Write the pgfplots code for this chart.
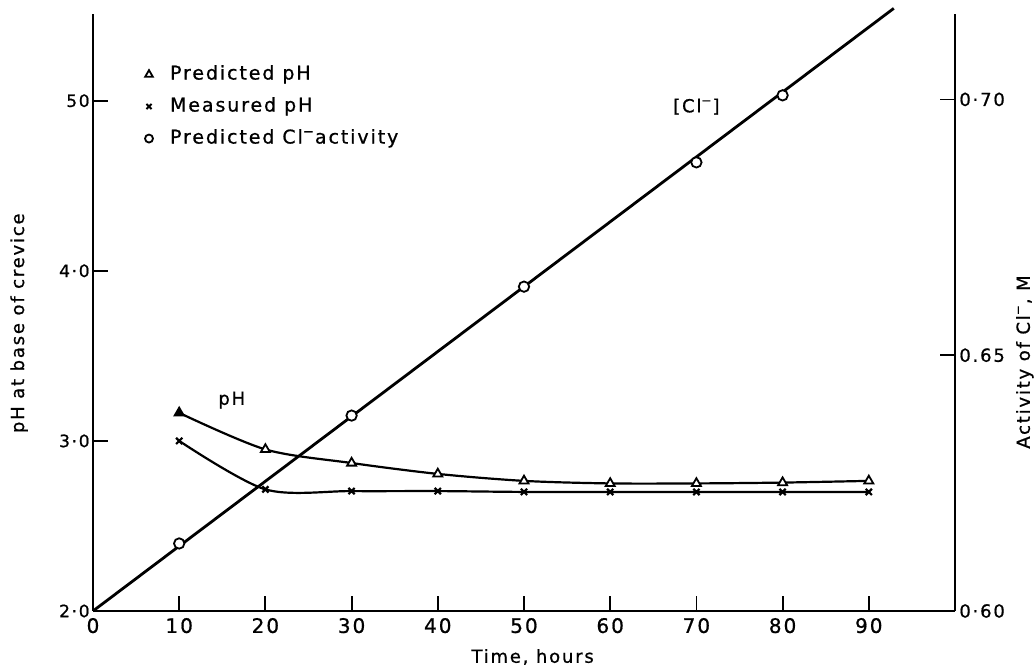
\documentclass[border=0pt]{standalone}
\usepackage{fontspec}
\setmainfont[LetterSpace=10, FakeBold=0.8]{DejaVu Sans}
\usepackage{pgfplots}
\usepackage{pgfplotstable}
\pgfplotsset{compat=1.18}

% pH at the base of the crevice (predicted and measured)
\pgfplotstableread{
t pred meas
10 3.165 3.000
20 2.950 2.715
30 2.870 2.705
40 2.806 2.705
50 2.765 2.700
60 2.750 2.700
70 2.750 2.700
80 2.755 2.700
90 2.765 2.700
}\phdata

% predicted chloride activity
\pgfplotstableread{
t act
10 0.6132
30 0.6382
50 0.6634
70 0.6877
80 0.7008
}\cldata

\begin{document}
\begin{tikzpicture}[font=\fontsize{9}{11}\selectfont]
\pgfplotsset{
  common/.style={
    scale only axis, width=431pt, height=298.5pt,
    xmin=0, xmax=100,
    tick align=inside, major tick length=7.5pt,
    tick style={line width=0.9pt, black},
    axis line style={line width=1.1pt, -},
    x axis line style={-}, y axis line style={-},
    clip=false,
  }
}
\begin{axis}[common,
  ymin=2, ymax=5.51,
  axis x line*=bottom, axis y line*=left,
  xtick={0,10,...,90},
  ytick={2,3,4,5},
  yticklabels={2·0,3·0,4·0,50},
  /pgf/number format/assume math mode=true,
  xticklabel style={font=\fontsize{10}{12}\selectfont},
  yticklabel style={font=\fontsize{8.5}{10}\selectfont, inner sep=1.5pt},
  legend cell align=left,
  legend image code/.code={\path[draw=none, fill=none] (0,0) -- (0.55cm,0); \draw[#1] plot coordinates {(0.25cm,0cm)};},
  legend style={draw=none, fill=none, inner sep=0pt, row sep=3pt,
    at={(axis description cs:0.048,0.921)}, anchor=north west,
    nodes={inner sep=2pt, text height=7pt, text depth=2pt, font=\fontsize{9.5}{11}\selectfont}},
]
\addlegendimage{only marks, mark=triangle, mark size=2.2pt, line width=0.9pt}
\addlegendentry{Predicted pH}
\addlegendimage{only marks, mark=x, mark size=1.8pt, line width=1pt}
\addlegendentry{Measured pH}
\addlegendimage{only marks, mark=o, mark size=2pt, line width=0.9pt}
\addlegendentry{Predicted Cl\textsuperscript{−}activity}

\addplot[smooth, line width=1.1pt, forget plot] table[x=t, y=pred] {\phdata};
\addplot[smooth, line width=1.1pt, forget plot] table[x=t, y=meas] {\phdata};
\addplot[only marks, mark=triangle*, mark size=2.6pt, line width=0.9pt,
  mark options={fill=white}, mark indices={2,3,4,5,6,7,8,9}, forget plot]
  table[x=t, y=pred] {\phdata};
\addplot[only marks, mark=triangle*, mark size=2.6pt, line width=0.9pt,
  mark options={fill=black}, mark indices={1}, forget plot]
  table[x=t, y=pred] {\phdata};
\addplot[only marks, mark=x, mark size=2.2pt, line width=1.1pt, forget plot]
  table[x=t, y=meas] {\phdata};

\node at (axis cs:16.1,3.24) {pH};
\node at (axis cs:70,4.965) {[Cl\textsuperscript{−}]};
\node[rotate=90] at (axis description cs:-0.0858,0.482) {pH at base of crevice};
\node at (axis description cs:0.51,-0.077) {Time, hours};
\end{axis}

\begin{axis}[common,
  ymin=0.60, ymax=0.7167,
  axis x line=none, axis y line*=right,
  ytick={0.60,0.65,0.70},
  yticklabels={0·60,0.65,0·70},
  yticklabel style={font=\fontsize{9}{11}\selectfont, inner sep=2pt},
]
\addplot[line width=1.4pt] coordinates {(0,0.600) (92.9,0.7178)};
\addplot[only marks, mark=*, mark size=2.6pt, line width=0.9pt,
  mark options={fill=white}] table[x=t, y=act] {\cldata};
\node[rotate=90] at (axis description cs:1.081,0.417) {Activity of Cl\textsuperscript{−}, M};
\end{axis}

\pgfresetboundingbox
\path[use as bounding box] ([xshift=-46.5pt,yshift=-29pt]current axis.south west)
  rectangle ([xshift=40pt,yshift=7pt]current axis.north east);
\end{tikzpicture}
\end{document}
